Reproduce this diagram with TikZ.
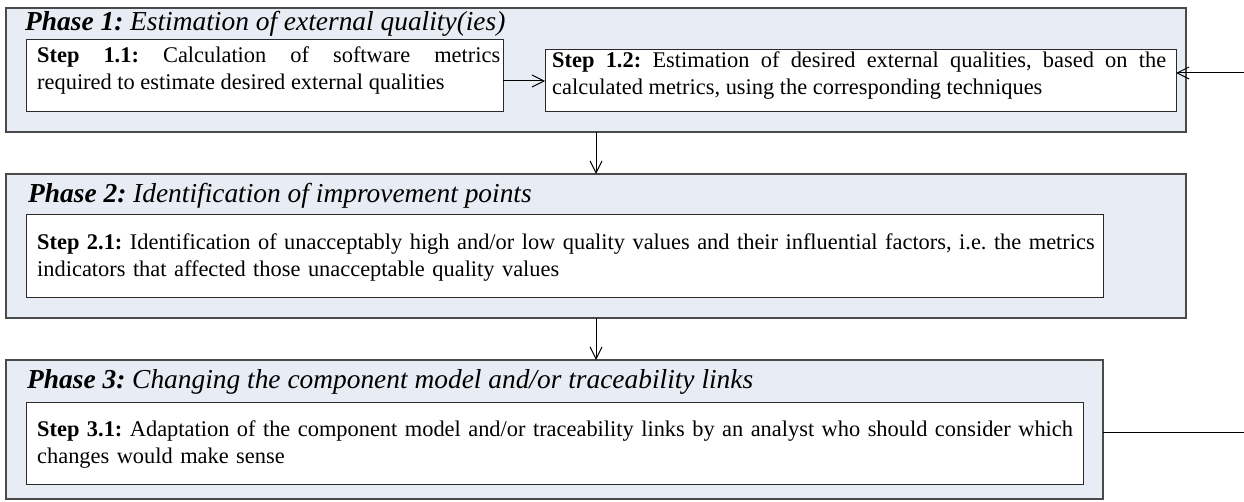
\documentclass[tikz,border=0pt]{standalone}
\usepackage{fontspec}
\setmainfont{Liberation Serif}
\usetikzlibrary{arrows.meta}
\definecolor{phasefill}{HTML}{E8ECF4}
\definecolor{phaseline}{HTML}{4A4A4A}
\definecolor{stepline}{HTML}{2A2A2A}
\frenchspacing

\begin{document}
\begin{tikzpicture}[x=1pt,y=-1pt,
  phase/.style={draw=phaseline, line width=1.2pt, fill=phasefill, anchor=north west,
    inner sep=0pt, outer sep=0pt},
  stepbox/.style={draw=stepline, line width=1pt, fill=white, anchor=north west,
    inner sep=0pt, outer sep=0pt},
  head/.style={anchor=base west, inner sep=0pt, font=\fontsize{27.4}{31}\selectfont\itshape},
  body/.style={anchor=base west, inner sep=0pt, font=\fontsize{22.4}{27}\selectfont},
  flow/.style={line width=1pt, -{Straight Barb[length=12pt,width=12pt]}},
]
\useasboundingbox (0,0) rectangle (1244,502);

% phase frames
\node[phase, minimum width=1180pt, minimum height=124pt] (p1) at (6,8) {};
\node[phase, minimum width=1180pt, minimum height=144pt] (p2) at (6,174) {};
\node[phase, minimum width=1097pt, minimum height=139pt] (p3) at (6,360) {};

% phase headings
\node[head] (h1) at (25,31) {\textbf{Phase 1:} Estimation of external quality(ies)};
\node[head] (h2) at (28,203) {\textbf{Phase 2:} Identification of improvement points};
\node[head] (h3) at (27,388) {\textbf{Phase 3:} Changing the component model and/or traceability links};

% step frames
\node[stepbox, minimum width=477pt, minimum height=72pt] (s11) at (26,40) {};
\node[stepbox, minimum width=631pt, minimum height=62pt] (s12) at (545,50) {};
\node[stepbox, minimum width=1077pt, minimum height=83pt] (s21) at (26,215) {};
\node[stepbox, minimum width=1057pt, minimum height=82pt] (s31) at (26,402) {};

% step texts
\node[body, text width=463pt, align=justify] (t11) at (37,63)
  {\textbf{Step 1.1:} Calculation of software metrics\linebreak required to estimate desired external qualities};
\node[body, text width=614pt, align=justify] (t12) at (552,68)
  {\textbf{Step 1.2:} Estimation of desired external qualities, based on the\linebreak calculated metrics, using the corresponding techniques};
\node[body, text width=1150pt, align=left] (t21) at (37,250)
  {\textbf{Step 2.1:} Identification of unacceptably high and/or low quality values and their influential factors, i.e. the metrics\\
   indicators that affected those unacceptable quality values};
\node[body, text width=1150pt, align=left] (t31) at (37,436)
  {\textbf{Step 3.1:} Adaptation of the component model and/or traceability links by an analyst who should consider which\\
   changes would make sense};

% flow between steps and phases
\draw[flow] (s11.east |- s12.west) -- (s12.west);
\draw[flow] (p1.south) -- (p2.north);
\draw[flow] (p2.south) -- (p2.south |- p3.north);

% feedback loop ends
\coordinate (loopin) at (1244,73);
\coordinate (loopout) at (1244,432);
\draw[flow] (loopin) -- (loopin -| s12.east);
\draw[line width=1pt] (p3.east |- loopout) -- (loopout);
\end{tikzpicture}
\end{document}
